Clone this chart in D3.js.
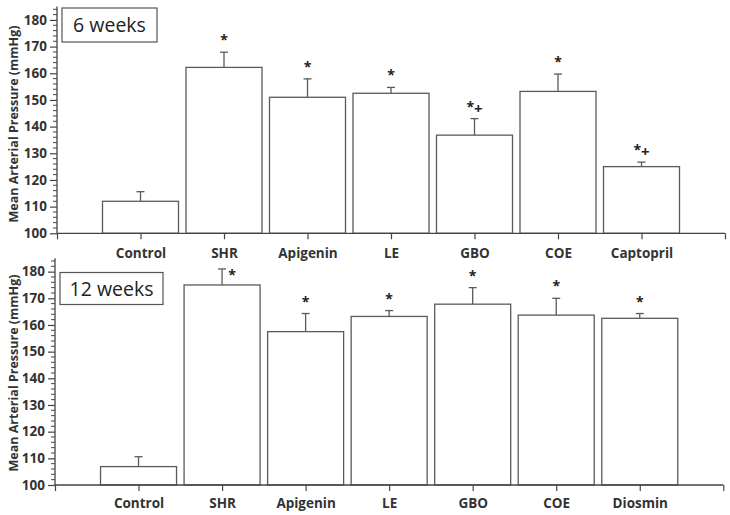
<!DOCTYPE html>
<html><head><meta charset="utf-8">
<script src="https://cdn.jsdelivr.net/npm/d3@7"></script>
<style>
html,body{margin:0;padding:0;background:#fff;}
svg{display:block;}
text{font-family:"Open Sans",sans-serif;}
</style></head>
<body>
<svg id="chart" width="730" height="515"></svg>
<script>
// ---- data ----
const categories6 = ["Control","SHR","Apigenin","LE","GBO","COE","Captopril"];
const values6 = [112, 162.2, 151, 152.5, 136.8, 153.2, 125];
const errors6 = [3.6, 5.7, 6.9, 2.2, 6.2, 6.5, 1.7];
const sig6 = ["", "*", "*", "*", "*+", "*", "*+"];

const categories12 = ["Control","SHR","Apigenin","LE","GBO","COE","Diosmin"];
const values12 = [106.9, 175, 157.5, 163.2, 167.8, 163.7, 162.5];
const errors12 = [3.7, 6, 6.8, 2.2, 6.2, 6.3, 1.8];
const sig12 = ["", "*", "*", "*", "*", "*", "*"];
const sigSide12 = ["top","right","top","top","top","top","top"];

const yTicks = [100,110,120,130,140,150,160,170,180];
const yDomain = [100, 185];
const panelTitles = ["6 weeks", "12 weeks"];
const yTitle = "Mean Arterial Pressure (mmHg)";

// ---- layout ----
const svg = d3.select("#chart");
const panels = [
  {cats:categories6, vals:values6, errs:errors6, sig:sig6, side:null, title:panelTitles[0],
   left:57, right:725, top:6.6, bottom:233.3, labelY:257.5, titleBox:[62,8,95,34], ytitleY:124},
  {cats:categories12, vals:values12, errs:errors12, sig:sig12, side:sigSide12, title:panelTitles[1],
   left:55, right:723.3, top:258.3, bottom:485, labelY:508, titleBox:[60,272.5,103,32], ytitleY:373}
];

const axisColor = "#444";
const barColor = "#5a5a5a";

panels.forEach(p => {
  const x = d3.scaleLinear().domain([0, p.cats.length + 1]).range([p.left, p.right]);
  const y = d3.scaleLinear().domain(yDomain).range([p.bottom, p.top]);
  const bw = 76;
  const g = svg.append("g");

  // bars
  p.cats.forEach((c, i) => {
    const cx = x(i + 1);
    const v = p.vals[i], e = p.errs[i];
    g.append("line").attr("x1", cx).attr("x2", cx).attr("y1", y(v)).attr("y2", y(v + e))
      .attr("stroke", barColor).attr("stroke-width", 1.3);
    g.append("line").attr("x1", cx - 4).attr("x2", cx + 4).attr("y1", y(v + e)).attr("y2", y(v + e))
      .attr("stroke", barColor).attr("stroke-width", 1.3);
    g.append("rect").attr("x", cx - bw / 2).attr("y", y(v)).attr("width", bw).attr("height", y(yDomain[0]) - y(v))
      .attr("fill", "#fff").attr("stroke", barColor).attr("stroke-width", 1.3);
    const s = p.sig[i];
    if (s) {
      const side = p.side ? p.side[i] : "top";
      let tx = cx, ty = y(v + e) - 7;
      if (side === "right") { tx = cx + 10; ty = y(v + e) + 11; }
      const t = g.append("text").attr("x", tx).attr("y", ty).attr("text-anchor", "middle")
        .attr("font-size", 14).attr("font-weight", 700).attr("fill", "#222");
      if (s === "*+") {
        t.append("tspan").text("*");
        t.append("tspan").attr("dy", 2).attr("font-size", 15).text("+");
      } else {
        t.text(s);
      }
    }
  });

  // y axis
  const yAxis = d3.axisLeft(y).tickValues(yTicks).tickSize(7).tickPadding(3).tickFormat(d3.format("d"));
  const ya = g.append("g").attr("transform", `translate(${p.left},0)`).call(yAxis);
  ya.select(".domain").attr("d", `M0,${p.top}V${p.bottom}`).attr("stroke", axisColor).attr("stroke-width", 1.3);
  ya.selectAll(".tick line").attr("stroke", axisColor).attr("stroke-width", 1.2);
  ya.selectAll(".tick text").attr("font-size", 13.5).attr("font-weight", 700).attr("fill", "#333")
    .attr("font-family", "'Open Sans',sans-serif");
  const minor = d3.range(yDomain[0], yDomain[1] + 0.01, 2).filter(v => v % 10 !== 0);
  g.selectAll(null).data(minor).join("line")
    .attr("x1", p.left - 4).attr("x2", p.left).attr("y1", d => y(d)).attr("y2", d => y(d))
    .attr("stroke", axisColor).attr("stroke-width", 1);

  // x axis
  const xa = d3.axisBottom(x).tickValues(d3.range(0, p.cats.length + 2)).tickSize(6)
    .tickFormat(d => (d >= 1 && d <= p.cats.length) ? p.cats[d - 1] : "");
  const xg = g.append("g").attr("transform", `translate(0,${p.bottom})`).call(xa);
  xg.select(".domain").attr("d", `M${p.left},0H${p.right}`).attr("stroke", axisColor).attr("stroke-width", 1.3);
  xg.selectAll(".tick line").attr("stroke", axisColor).attr("stroke-width", 1.2);
  xg.selectAll(".tick text").attr("font-size", 13.5).attr("font-weight", 700).attr("fill", "#333")
    .attr("font-family", "'Open Sans',sans-serif").attr("y", 0).attr("dy", 0)
    .attr("transform", `translate(0,${p.labelY - p.bottom})`);

  // y title
  g.append("text").attr("transform", `translate(18,${p.ytitleY}) rotate(-90)`).attr("text-anchor", "middle")
    .attr("font-size", 12.5).attr("font-weight", 700).attr("fill", "#333").text(yTitle);

  // panel title box
  const [bx, by, bwid, bh] = p.titleBox;
  g.append("rect").attr("x", bx).attr("y", by).attr("width", bwid).attr("height", bh)
    .attr("fill", "#fff").attr("stroke", "#555").attr("stroke-width", 1.2);
  g.append("text").attr("x", bx + bwid / 2).attr("y", by + bh / 2 + 7).attr("text-anchor", "middle")
    .attr("font-size", 19.5).attr("fill", "#222").text(p.title);
});
</script>
</body></html>
